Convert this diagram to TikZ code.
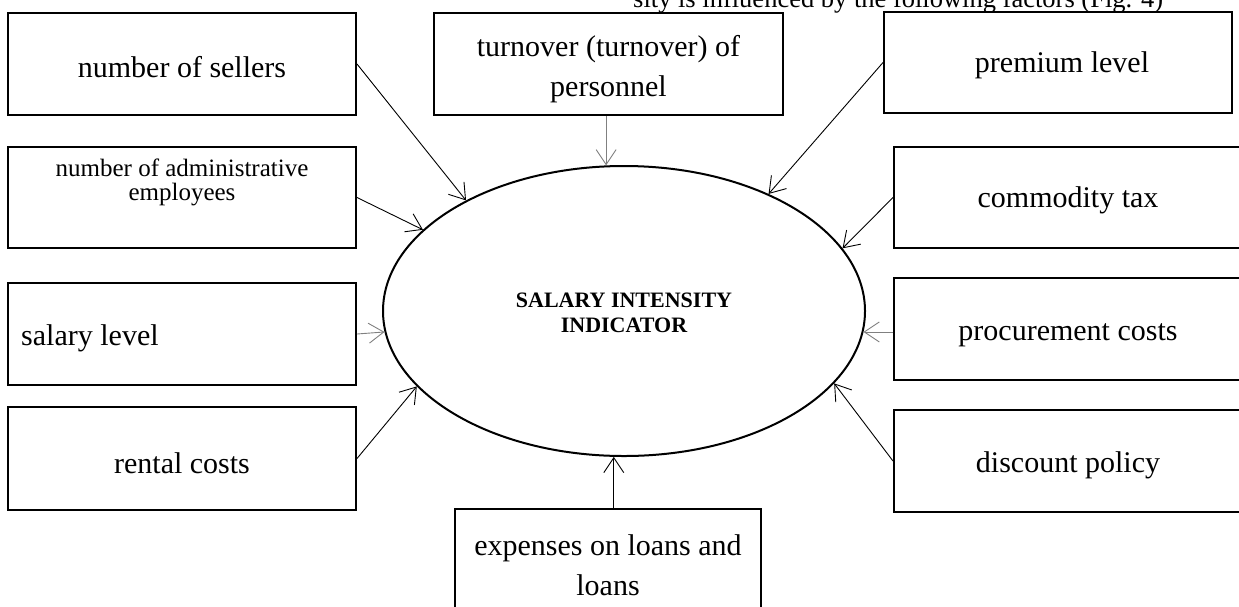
\documentclass[tikz,border=0pt]{standalone}
\usepackage{fontspec}
\setmainfont{Liberation Serif}
\usetikzlibrary{shapes.geometric,arrows.meta,calc}
\begin{document}
\begin{tikzpicture}[x=1pt,y=-1pt,
  box/.style={draw,line width=2pt,inner sep=0pt,minimum width=348pt,minimum height=102pt},
  txt/.style={inner sep=0pt,font=\fontsize{30}{40}\selectfont,align=center},
  arr/.style={-{Straight Barb[length=15pt,width=20pt]},line width=0.9pt},
  garr/.style={arr,draw=black!50}]
\useasboundingbox (0,0) rectangle (1239,606);
\clip (0,0) rectangle (1239,606);

\node[font=\fontsize{26.5}{32}\selectfont,anchor=base west,inner sep=0pt] (cap) at (633,7)
  {sity is influenced by the following factors (Fig. 4)};

% left column
\node[box] (l1) at (182,64) {};
\node[txt] (l1t) at ([yshift=-3pt]l1.center) {number of sellers};
\node[box,minimum height=101pt] (l2) at (182,197.5) {};
\node[txt,font=\fontsize{25}{24}\selectfont] (l2t) at ([yshift=15pt]l2.center)
  {number of administrative\\employees};
\node[box] (l3) at (182,334) {};
\node[txt,anchor=west] (l3t) at ([xshift=14pt,yshift=-4pt]l3.west) {salary level};
\node[box,minimum height=103pt] (l4) at (182,458.5) {};
\node[txt] (l4t) at ([yshift=-5pt]l4.center) {rental costs};

% top middle
\node[box,minimum width=349pt] (t) at (608.5,64) {};
\node[txt] (tt) at ([yshift=-5pt]t.center) {turnover (turnover) of\\personnel};

% right column
\node[box,minimum height=101pt] (r1) at (1058,62.5) {};
\node[txt] (r1t) at ([xshift=4pt,yshift=-3pt]r1.center) {premium level};
\node[box,minimum height=101pt] (r2) at (1068,197.5) {};
\node[txt] (r2t) at ([yshift=-3pt]r2.center) {commodity tax};
\node[box] (r3) at (1068,329) {};
\node[txt] (r3t) at ([yshift=-6pt]r3.center) {procurement costs};
\node[box] (r4) at (1068,461) {};
\node[txt] (r4t) at ([yshift=-4pt]r4.center) {discount policy};

% bottom
\node[box,minimum width=306pt,minimum height=103pt] (b) at (608,560.5) {};
\node[txt] (bt) at ([yshift=-5pt]b.center) {expenses on loans and\\loans};

% centre ellipse
\node[draw,ellipse,line width=2pt,minimum width=482pt,minimum height=290pt,inner sep=0pt] (ell) at (624,311) {};
\node[txt,font=\bfseries\fontsize{22}{25}\selectfont] (ellt) at ([yshift=-2pt]ell.center)
  {SALARY INTENSITY\\INDICATOR};

% connectors
\draw[arr] (l1.east) -- (ell.145.6);
\draw[arr] (l2.east) -- (ell.158.1);
\draw[garr] (l3.east) -- (ell.185.5);
\draw[arr] (l4.east) -- (ell.200.5);
\draw[garr] (ell.97.5 |- t.south) -- (ell.97.5);
\draw[arr] (r1.west) -- (ell.39.8);
\draw[arr] (r2.west) -- (ell.16.8);
\draw[garr] (ell.-5.4 -| r3.west) -- (ell.-5.4);
\draw[arr] (r4.west) -- (ell.-19.5);
\draw[arr] (ell.-94 |- b.north) -- (ell.-94);
\end{tikzpicture}
\end{document}
